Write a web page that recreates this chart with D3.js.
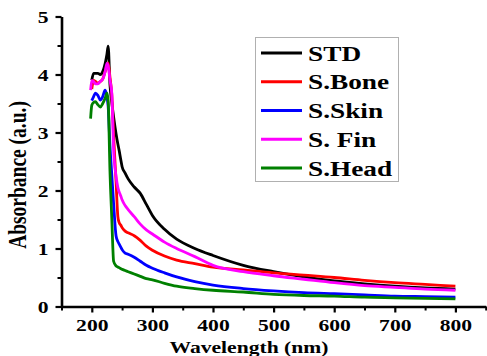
<!DOCTYPE html>
<html><head><meta charset="utf-8">
<script src="https://cdn.jsdelivr.net/npm/d3@7/dist/d3.min.js"></script>
<style>body{margin:0;background:#fff}svg{display:block}</style>
</head><body>
<svg id="c" width="487" height="356"></svg>
<script>
// ---- data ----
const wavelengths = [198,200,203,206,210,214,218,222,225,227,230,233,236,240,243,245,248,250,255,260,270,280,290,300,320,340,370,400,450,500,550,600,650,700,750,800];
const seriesNames = ["STD","S.Bone","S.Skin","S. Fin","S.Head"];
const seriesColors = ["#000000","#ff0000","#0000ff","#ff00ff","#008000"];
const stdAbs  = [null,3.90,4.02,4.02,4.02,4.00,4.05,4.19,4.35,4.49,3.82,3.52,3.27,2.98,2.80,2.70,2.52,2.41,2.30,2.20,2.06,1.95,1.76,1.57,1.33,1.16,1.00,0.88,0.71,0.60,0.51,0.44,0.39,0.35,0.32,0.30];
const boneAbs = [null,3.75,3.90,3.88,3.85,3.88,3.92,4.05,4.15,4.20,3.95,3.65,2.95,2.15,1.55,1.45,1.40,1.36,1.30,1.27,1.22,1.14,1.04,0.97,0.87,0.80,0.74,0.68,0.63,0.58,0.54,0.50,0.45,0.41,0.38,0.35];
const skinAbs = [null,3.55,3.62,3.68,3.64,3.56,3.62,3.73,3.62,3.45,2.77,2.27,1.77,1.22,1.12,1.08,1.02,0.98,0.92,0.90,0.85,0.78,0.71,0.66,0.58,0.51,0.43,0.37,0.31,0.27,0.24,0.22,0.20,0.18,0.17,0.16];
const finAbs  = [3.73,3.90,3.88,3.84,3.84,3.88,3.92,4.05,4.19,4.15,3.90,3.68,2.70,2.25,2.05,1.98,1.90,1.84,1.74,1.67,1.55,1.42,1.32,1.25,1.11,1.00,0.86,0.71,0.60,0.53,0.47,0.41,0.36,0.33,0.30,0.28];
const headAbs = [3.24,3.47,3.52,3.53,3.48,3.44,3.50,3.59,3.68,3.55,2.33,1.52,0.78,0.70,0.68,0.67,0.65,0.64,0.62,0.60,0.56,0.52,0.48,0.46,0.40,0.35,0.31,0.28,0.25,0.21,0.19,0.18,0.16,0.15,0.14,0.13];
const seriesValues = [stdAbs, boneAbs, skinAbs, finAbs, headAbs];
const xMajorTicks = [200,300,400,500,600,700,800];
const xMinorTicks = [150,250,350,450,550,650,750,850];
const yMajorTicks = [0,1,2,3,4,5];
const yMinorTicks = [0.5,1.5,2.5,3.5,4.5];
const xTitle = "Wavelength (nm)";
const yTitle = "Absorbance (a.u.)";

// ---- layout ----
const SX = 1.27; // horizontal stretch of the reference text
const font = "'Liberation Serif','Times New Roman',serif";
const svg = d3.select("#c");
const x = d3.scaleLinear().domain([150,850]).range([61.5,485.7]);
const y = d3.scaleLinear().domain([0,5]).range([306.5,16.5]);

// curves
const line = d3.line()
  .defined(d => d[1] != null)
  .x(d => x(d[0])).y(d => y(d[1]))
  .curve(d3.curveMonotoneX);
seriesValues.forEach((vals, i) => {
  svg.append("path")
    .datum(wavelengths.map((w, j) => [w, vals[j]]))
    .attr("d", line)
    .attr("fill","none")
    .attr("stroke", seriesColors[i])
    .attr("stroke-width", 2.8)
    .attr("stroke-linejoin","round");
});
// redraw order: draw STD over others near peak handled by order; keep as is

// axes
function styleAxis(g){
  g.select(".domain").attr("stroke","#000").attr("stroke-width",2.6);
  g.selectAll(".tick line").attr("stroke","#000").attr("stroke-width",2.2);
}
const xAxis = svg.append("g").attr("transform",`translate(0,${y(0)})`)
  .call(d3.axisBottom(x).tickValues(xMajorTicks).tickSize(6).tickSizeOuter(0).tickPadding(0));
styleAxis(xAxis);
xAxis.selectAll(".tick text")
  .attr("y",25).attr("dy",0)
  .attr("transform",`scale(${SX},1)`)
  .style("font-family",font).style("font-weight","bold").style("font-size","17px").attr("fill","#000");
svg.append("g").attr("transform",`translate(0,${y(0)})`)
  .call(d3.axisBottom(x).tickValues(xMinorTicks).tickSize(4).tickFormat(""))
  .call(g => { g.select(".domain").remove(); g.selectAll("line").attr("stroke","#000").attr("stroke-width",2); });

const yAxis = svg.append("g").attr("transform",`translate(${x(150)},0)`)
  .call(d3.axisLeft(y).tickValues(yMajorTicks).tickSize(6).tickSizeOuter(0).tickFormat(d3.format("d")));
styleAxis(yAxis);
yAxis.selectAll(".tick text")
  .attr("x",-10.2).attr("dy","0.36em")
  .attr("transform",`scale(${SX},1)`)
  .style("font-family",font).style("font-weight","bold").style("font-size","17px").attr("fill","#000");
svg.append("g").attr("transform",`translate(${x(150)},0)`)
  .call(d3.axisLeft(y).tickValues(yMinorTicks).tickSize(4).tickFormat(""))
  .call(g => { g.select(".domain").remove(); g.selectAll("line").attr("stroke","#000").attr("stroke-width",2); });

// axis titles
svg.append("text")
  .attr("transform",`translate(249,353) scale(${SX},1)`)
  .attr("text-anchor","middle")
  .style("font-family",font).style("font-weight","bold").style("font-size","17px")
  .text(xTitle);
svg.append("text")
  .attr("transform",`translate(26,175) scale(${SX},1) rotate(-90)`)
  .attr("text-anchor","middle")
  .style("font-family",font).style("font-weight","bold").style("font-size","19.5px")
  .text(yTitle);

// legend
const lg = svg.append("g");
lg.append("rect").attr("x",255.5).attr("y",37.5).attr("width",143).attr("height",144)
  .attr("fill","#fff").attr("stroke","#b0b0b0").attr("stroke-width",1);
const rowY = d3.scalePoint().domain(seriesNames).range([53,168]);
seriesNames.forEach((n,i) => {
  const cy = rowY(n);
  lg.append("line").attr("x1",261).attr("x2",302).attr("y1",cy).attr("y2",cy)
    .attr("stroke",seriesColors[i]).attr("stroke-width",3);
  lg.append("text")
    .attr("transform",`translate(308,${cy+7.5}) scale(${SX},1)`)
    .style("font-family",font).style("font-weight","bold").style("font-size","21.5px")
    .text(n);
});
</script>
</body></html>
